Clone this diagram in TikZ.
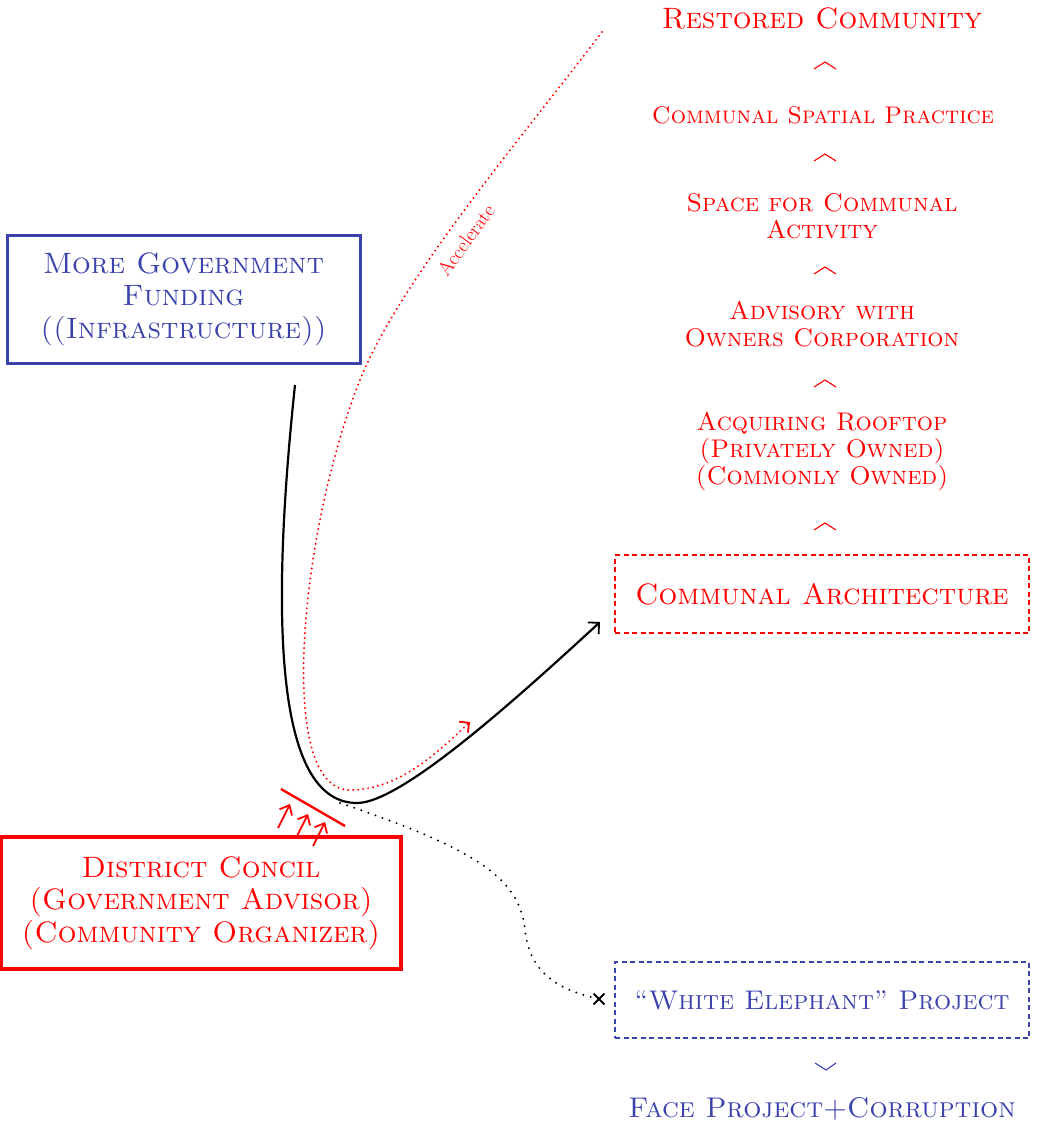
\documentclass[tikz,border=0pt]{standalone}
\usepackage{fontspec}
\usetikzlibrary{arrows.meta,shapes.misc}
\definecolor{myred}{RGB}{255,0,0}
\definecolor{myblue}{RGB}{58,66,172}
\tikzset{
  big/.style={font=\fontsize{29.5}{32.5}\selectfont\scshape, align=center, inner sep=0pt},
  mid/.style={font=\fontsize{25.5}{27}\selectfont\scshape, align=center, inner sep=0pt, text=myred},
  dashbox/.style={draw, line width=1.6pt, dash pattern=on 5pt off 3.5pt, inner sep=0pt},
  chev/.style={line width=1.1pt},
  barb/.style={-{Straight Barb[length=8pt,width=16pt,line width=1.8pt]}},
}
\begin{document}
\begin{tikzpicture}[x=1pt,y=-1pt]
\useasboundingbox (0,0) rectangle (1043,1129);
% right column
\node[big, text=myred] (rc) at (822,18) {Restored Community};
\node[mid, font=\fontsize{24}{27}\selectfont\scshape] (csp) at (823,115) {Communal Spatial Practice};
\node[mid] (sca) at (822,216) {Space for Communal\\Activity};
\node[mid] (awo) at (822,324) {Advisory with\\Owners Corporation};
\node[mid] (acq) at (822,452) {Acquiring Rooftop\\(Privately Owned)\\(Commonly Owned)};
\node[big, text=myred, dashbox, draw=myred, minimum width=414pt, minimum height=78pt] (ca) at (822,594) {Communal Architecture};
\node[big, font=\fontsize{27}{32}\selectfont\scshape, text=myblue, dashbox, draw=myblue, minimum width=414pt, minimum height=76pt] (we) at (822,1000) {“White Elephant” Project};
\node[big, font=\fontsize{28.5}{32}\selectfont\scshape, text=myblue] (fpc) at (822,1109) {Face Project+Corruption};
% chevrons
\foreach \y in {62,154,267,380,523}{
  \draw[chev, myred] (814,\y+7) -- (825,\y) -- (836,\y+7);
}
\draw[chev, myblue] (815,1063) -- (826,1070) -- (836,1063);
% left boxes
\node[big, text=myblue, draw=myblue, line width=3pt, minimum width=353pt, minimum height=128pt] (mgf) at (183.5,299) {More Government\\Funding\\((Infrastructure))};
\node[big, text=myred, draw=myred, line width=3.2pt, minimum width=400pt, minimum height=132pt] (dc) at (201,903) {District Concil\\(Government Advisor)\\(Community Organizer)};
% black curve
\coordinate (bs) at (295,385);
\coordinate (bb) at (357,803);
\coordinate (be) at (600,622);
\draw[line width=2.2pt, barb] (bs) .. controls (268,640) and (280,803) .. (bb)
  .. controls (400,803) and (510,705) .. (be);
% red dotted accelerate curve
\coordinate (rt) at (602,32);
\coordinate (rp) at (360,380);
\coordinate (rb) at (350,790);
\coordinate (re) at (470,722);
\draw[myred, line width=2.2pt, dash pattern=on 0pt off 5pt, line cap=round] (rt) .. controls (520,140) and (400,280) .. (rp)
  .. controls (300,530) and (275,790) .. (rb)
  .. controls (400,790) and (440,750) .. (re);
\draw[myred, line width=1.8pt, -{Straight Barb[length=7pt,width=14pt,line width=1.8pt]}] (re) ++(-3,2.4) -- (re);
\node[font=\fontsize{20}{21}\selectfont, text=myred, rotate=54, inner sep=0pt] (acc) at (466,240) {Accelerate};
% black dotted to X
\node[cross out, draw, line width=1.8pt, minimum size=9pt, inner sep=0pt] (x) at (599,999) {};
\coordinate (ds) at (340,803);
\draw[line width=2.2pt, dash pattern=on 0pt off 7.5pt, line cap=round] (ds) .. controls (480,850) and (520,880) .. (525,930)
  .. controls (530,975) and (560,990) .. (x.center);
% red blocking bar with arrows
\coordinate (k1) at (281,789);
\coordinate (k2) at (345,826);
\draw[myred, line width=2.4pt] (k1) -- (k2);
\foreach \a/\b in {278/828, 296/838, 313/846}{
  \draw[myred, line width=1.8pt, -{Straight Barb[length=8pt,width=14pt,line width=1.8pt]}] (\a,\b) -- ++(12,-24);
}
\end{tikzpicture}
\end{document}
